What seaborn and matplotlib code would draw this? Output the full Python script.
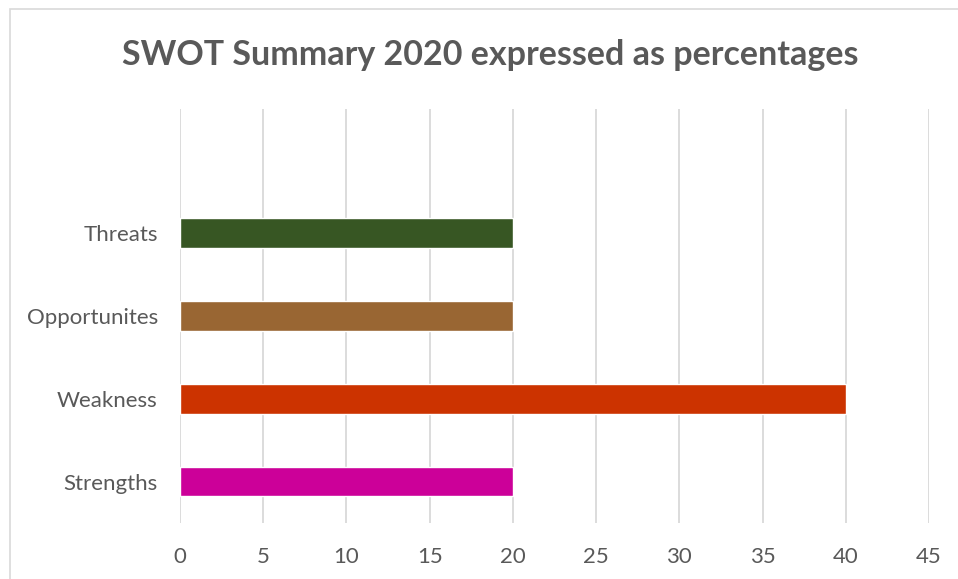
import matplotlib
matplotlib.use("Agg")
import matplotlib.pyplot as plt
import seaborn as sns
import pandas as pd
from matplotlib.patches import Rectangle

categories = ["Threats", "Opportunites", "Weakness", "Strengths"]
values = [20, 20, 40, 20]
colors = ["#375623", "#996633", "#CC3300", "#CC0099"]
xticks = [0, 5, 10, 15, 20, 25, 30, 35, 40, 45]
title = "SWOT Summary 2020 expressed as percentages"

sns.set_theme(style="white")
plt.rcParams["font.family"] = ["Lato", "DejaVu Sans"]

TEXT = "#595959"
GRID = "#D9D9D9"

df = pd.DataFrame({"cat": categories, "val": values})

fig = plt.figure(figsize=(9.58, 5.79), dpi=100)
fig.patch.set_facecolor("white")
# chart border
fig.patches.append(Rectangle((10 / 958, -0.1), 1.2, 1 - 9.5 / 579 + 0.1,
                             transform=fig.transFigure, fill=False,
                             edgecolor=GRID, linewidth=1.2, zorder=0))

ax = fig.add_axes([180 / 958, 1 - 523 / 579, (929 - 180) / 958, (523 - 108.5) / 579])
sns.barplot(data=df, y="cat", x="val", hue="cat", palette=colors, order=categories,
            hue_order=categories, width=0.36, legend=False, ax=ax, zorder=3,
            saturation=1)

ax.set_xlim(0, 45)
ax.set_ylim(3.5, -1.5)
ax.set_xticks(xticks)
ax.set_xticklabels([str(t) for t in xticks])
ax.grid(axis="x", color=GRID, linewidth=1.3, zorder=0)
ax.grid(axis="y", visible=False)
ax.set_axisbelow(True)
for s in ax.spines.values():
    s.set_visible(False)
ax.set_xlabel("")
ax.set_ylabel("")
ax.tick_params(axis="x", length=0, pad=17, labelsize=16, labelcolor=TEXT)
ax.tick_params(axis="y", length=0, pad=16, labelsize=16, labelcolor=TEXT)

fig.text(490 / 958, 1 - 65 / 579, title, ha="center", va="baseline",
         fontsize=24.5, fontweight="bold", color=TEXT)

fig.savefig("out.png", dpi=100)
